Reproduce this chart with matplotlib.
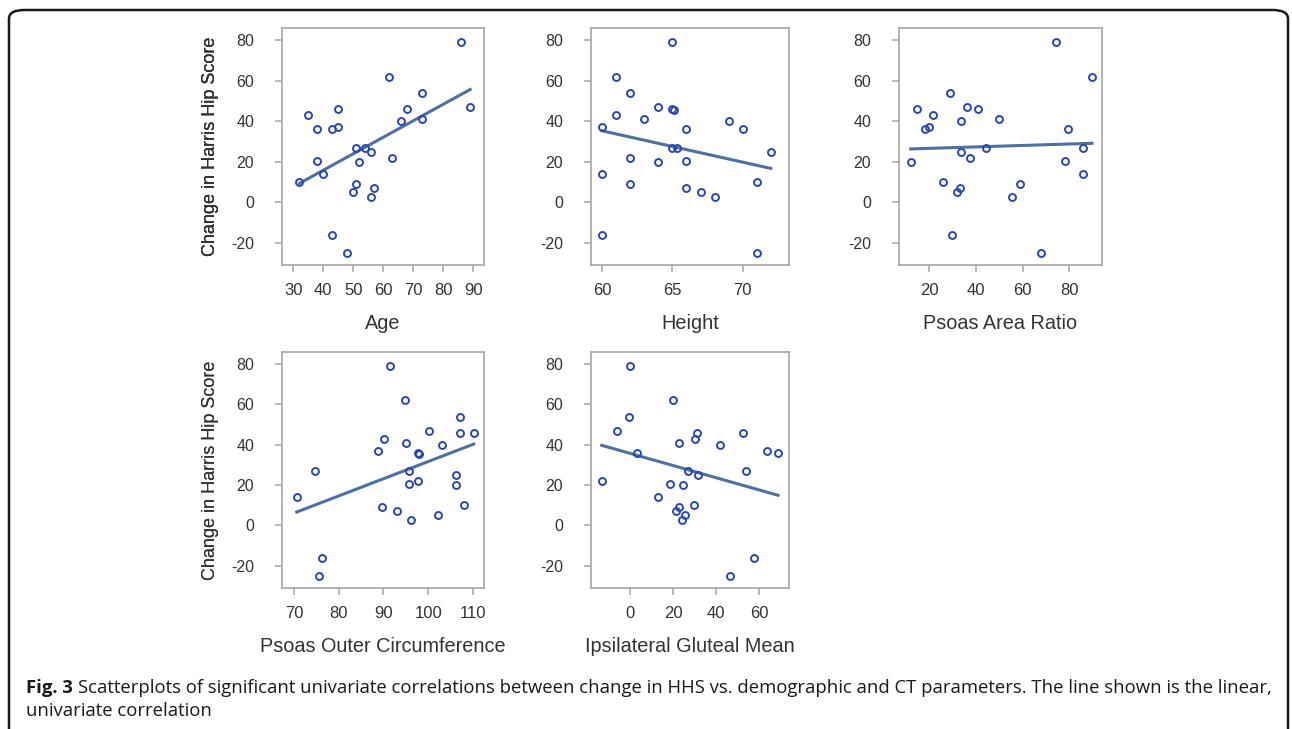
import numpy as np
import matplotlib
matplotlib.use("Agg")
import matplotlib.pyplot as plt
from matplotlib.patches import FancyBboxPatch

plt.rcParams['font.family'] = ['Liberation Sans', 'DejaVu Sans']
plt.rcParams['axes.unicode_minus'] = False

# change in Harris Hip Score against each parameter
age = [32, 35, 38, 38, 40, 43, 43, 45, 45, 48, 50, 51, 51, 52, 54, 56, 56, 57, 62, 63, 66, 68, 73, 73, 86, 89]
age_hhs = [10, 43, 36, 20.5, 14, 36, -16, 46, 37, -25, 5, 9, 27, 20, 27, 25, 2.5, 7, 62, 22, 40, 46, 54, 41, 79, 47]

height = [60, 60, 60, 61, 61, 62, 62, 62, 63, 64, 64, 65, 65.1, 65, 65, 65.3, 66, 66, 66, 67, 68, 69, 70, 71, 71, 72]
height_hhs = [37, 14, -16, 62, 43, 54, 22, 9, 41, 47, 20, 46, 45.5, 79, 27, 27, 36, 20.5, 7, 5, 2.5, 40, 36, 10, -25, 25]

psoas_ratio = [12, 14.6, 18, 20, 21.4, 26, 29, 29.7, 32, 33, 33.4, 33.4, 36, 37.3, 41, 44.3, 50,
               55.4, 58.7, 68, 74.4, 78.3, 79.4, 85.7, 85.9, 89.7]
psoas_ratio_hhs = [20, 46, 36, 37, 43, 10, 54, -16, 5, 7, 40, 25, 47, 22, 46, 27, 41,
                   2.5, 9, -25, 79, 20.5, 36, 27, 14, 62]

psoas_circ = [70.6, 74.7, 76.2, 75.6, 88.8, 90.2, 89.6, 91.5, 93.1, 94.8, 95.1, 95.8, 95.8, 96.2,
              97.8, 97.9, 97.8, 100.2, 102.1, 103.1, 106.2, 106.2, 107.1, 107.1, 108.1, 110.2]
psoas_circ_hhs = [14, 27, -16, -25, 37, 43, 9, 79, 7, 62, 41, 27, 20.5, 2.5,
                  36, 35.5, 22, 47, 5, 40, 25, 20, 54, 46, 10, 46]

gluteal = [-13.2, -6, -0.6, 0, 3, 13, 18.4, 20, 21.2, 22.8, 22.8, 24, 24.8, 25.7, 26.8, 29.6, 30.2,
           31, 31.6, 42, 46.3, 52.8, 54.2, 57.8, 63.9, 68.9]
gluteal_hhs = [22, 47, 54, 79, 36, 14, 20.5, 62, 7, 9, 41, 2.5, 20, 5, 27, 10, 43,
               46, 25, 40, -25, 46, 27, -16, 37, 36]

W, H = 1292, 729
fig = plt.figure(figsize=(W / 100, H / 100), dpi=100)

# rounded frame around the figure
frame = FancyBboxPatch((9 / W, -0.02), (1288 - 9) / W, 1 - 10 / H + 0.02,
                       boxstyle="round,pad=0,rounding_size=0.012",
                       transform=fig.transFigure, fill=False, ec='#1a1a1a', lw=1.8)
fig.patches.append(frame)

panels = [
    (age, age_hhs, 'Age', (282, 28, 484, 265), (26.2, 93.6), [30, 40, 50, 60, 70, 80, 90]),
    (height, height_hhs, 'Height', (591, 28, 789, 265), (59.2, 73.3), [60, 65, 70]),
    (psoas_ratio, psoas_ratio_hhs, 'Psoas Area Ratio', (899, 28, 1102, 265), (7, 94), [20, 40, 60, 80]),
    (psoas_circ, psoas_circ_hhs, 'Psoas Outer Circumference', (282, 352, 484, 588), (67.3, 112.5),
     [70, 80, 90, 100, 110]),
    (gluteal, gluteal_hhs, 'Ipsilateral Gluteal Mean', (591, 352, 789, 588), (-18.2, 74), [0, 20, 40, 60]),
]

spine_col = '#a5a5a5'
text_col = '#333333'

for x, y, xlabel, (l, t, r, b), xlim, xticks in panels:
    ax = fig.add_axes([l / W, 1 - b / H, (r - l) / W, (b - t) / H])
    x = np.array(x)
    y = np.array(y)
    k, c = np.polyfit(x, y, 1)
    xs = np.array([x.min(), x.max()])
    ax.plot(xs, k * xs + c, color='#5070a0', lw=2.2, zorder=2)
    ax.plot(x, y, 'o', mfc='none', mec='#2a48b0', ms=5, mew=1.4, zorder=3)
    ax.set_xlim(*xlim)
    ax.set_ylim(-31, 86)
    ax.set_xticks(xticks)
    ax.set_yticks([-20, 0, 20, 40, 60, 80])
    for s in ax.spines.values():
        s.set_color(spine_col)
        s.set_linewidth(1.2)
    ax.tick_params(colors=spine_col, labelcolor=text_col, length=5, width=1.1)
    ax.tick_params(axis='x', pad=8, labelsize=12)
    ax.tick_params(axis='y', pad=15, labelsize=11.5)
    ax.set_xlabel(xlabel, fontsize=14.3, color=text_col)
    ax.set_ylabel('Change in Harris Hip Score', fontsize=13, color=text_col)
    ax.xaxis.set_label_coords(0.5, -49 / (b - t))
    ax.yaxis.set_label_coords(-(l - 219) / (r - l), 0.5)

# caption
fig.canvas.draw()
renderer = fig.canvas.get_renderer()
cap_font = ['Open Sans', 'DejaVu Sans']
cap_size = 13.3
bold = fig.text(26 / W, 1 - 693 / H, 'Fig. 3', fontsize=cap_size, fontweight='bold',
                family=cap_font, color='#1a1a1a', va='baseline')
bb = bold.get_window_extent(renderer)
fig.text(bb.x1 / W + 5 / W, 1 - 693 / H,
         'Scatterplots of significant univariate correlations between change in HHS vs. '
         'demographic and CT parameters. The line shown is the linear,',
         fontsize=cap_size, family=cap_font, color='#1a1a1a', va='baseline')
fig.text(26 / W, 1 - 716 / H, 'univariate correlation', fontsize=cap_size, family=cap_font,
         color='#1a1a1a', va='baseline')

fig.savefig('out.png', dpi=100)
